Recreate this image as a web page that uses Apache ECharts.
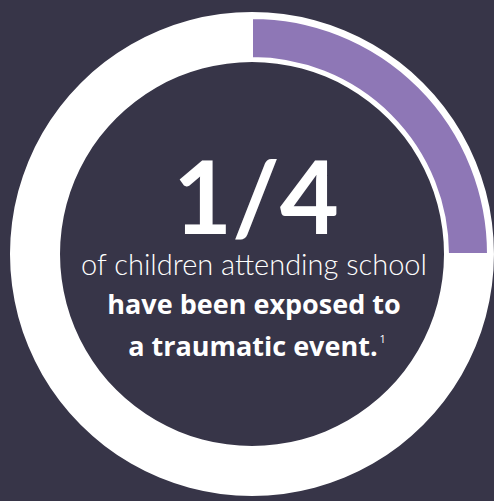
<!DOCTYPE html>
<html>
<head>
<meta charset="utf-8">
<script src="https://cdn.jsdelivr.net/npm/echarts@6/dist/echarts.min.js"></script>
<style>
html,body{margin:0;padding:0;background:#373548;}
#chart{width:494px;height:501px;}
</style>
</head>
<body>
<div id="chart"></div>
<script>
// Data
const categories = ['Exposed to a traumatic event', 'Not exposed'];
const shareValues = [1, 3];
const headline = '1/4';
const textLines = ['of children attending school', 'have been exposed to', 'a traumatic event.'];
const footnote = '1';

const chart = echarts.init(document.getElementById('chart'), null, {renderer: 'svg'});
const cx = 252, cy = 254;
const option = {
  backgroundColor: '#373548',
  animation: false,
  series: [
    {
      type: 'pie',
      center: [cx, cy],
      radius: [192, 242],
      silent: true,
      label: {show: false},
      labelLine: {show: false},
      itemStyle: {color: '#ffffff'},
      data: [{name: 'ring', value: shareValues[0] + shareValues[1]}]
    },
    {
      type: 'pie',
      center: [cx, cy],
      radius: [196, 236],
      startAngle: 90,
      clockwise: true,
      silent: true,
      label: {show: false},
      labelLine: {show: false},
      data: categories.map((c, i) => ({
        name: c,
        value: shareValues[i],
        itemStyle: i === 0
          ? {color: '#8e77b6', borderColor: '#ffffff', borderWidth: 2}
          : {color: 'rgba(0,0,0,0)', borderWidth: 0}
      }))
    }
  ],
  graphic: [
    {
      type: 'text', x: 256, y: 194,
      style: {text: headline, fill: '#ffffff', font: '700 102px Lato', lineHeight: 78, align: 'center', verticalAlign: 'middle'}
    },
    {
      type: 'text', x: 254, y: 249,
      style: {text: textLines[0], fill: '#ffffff', font: '300 29px Lato', align: 'center', verticalAlign: 'top'}
    },
    {
      type: 'text', x: 254, y: 290,
      style: {text: textLines[1], fill: '#ffffff', font: '700 27px "Open Sans"', align: 'center', verticalAlign: 'top'}
    },
    {
      type: 'text', x: 257, y: 332,
      style: {
        text: '{m|' + textLines[2] + '}{s|' + footnote + '}',
        fill: '#ffffff',
        align: 'center', verticalAlign: 'top',
        rich: {
          m: {font: '700 27px "Open Sans"', fill: '#ffffff'},
          s: {font: '400 11px "Open Sans"', fill: '#ffffff', verticalAlign: 'top', padding: [1, 0, 0, 2]}
        }
      }
    }
  ]
};
chart.setOption(option);
</script>
</body>
</html>
